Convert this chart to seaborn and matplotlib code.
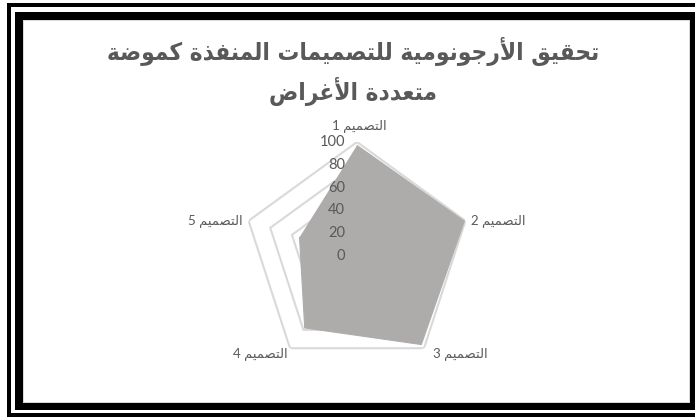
import re
import numpy as np
import matplotlib
matplotlib.use("Agg")
import matplotlib.pyplot as plt
import matplotlib.transforms as mtrans
from matplotlib.patches import Rectangle
import seaborn as sns

# ---------------- data ----------------
title_line1 = "تحقيق الأرجونومية للتصميمات المنفذة كموضة"
title_line2 = "متعددة الأغراض"
categories = ["التصميم 1", "التصميم 2", "التصميم 3", "التصميم 4", "التصميم 5"]
values = [97, 99, 96, 78, 53]
radial_ticks = [0, 20, 40, 60, 80, 100]

# ---------------- Arabic shaping (matplotlib has no complex text layout) -------------
FORMS = {
    'ا': ('\uFE8D', '\uFE8E', None, None), 'أ': ('\uFE83', '\uFE84', None, None),
    'إ': ('\uFE87', '\uFE88', None, None), 'آ': ('\uFE81', '\uFE82', None, None),
    'ب': ('\uFE8F', '\uFE90', '\uFE91', '\uFE92'), 'ة': ('\uFE93', '\uFE94', None, None),
    'ت': ('\uFE95', '\uFE96', '\uFE97', '\uFE98'), 'ث': ('\uFE99', '\uFE9A', '\uFE9B', '\uFE9C'),
    'ج': ('\uFE9D', '\uFE9E', '\uFE9F', '\uFEA0'), 'ح': ('\uFEA1', '\uFEA2', '\uFEA3', '\uFEA4'),
    'خ': ('\uFEA5', '\uFEA6', '\uFEA7', '\uFEA8'), 'د': ('\uFEA9', '\uFEAA', None, None),
    'ذ': ('\uFEAB', '\uFEAC', None, None), 'ر': ('\uFEAD', '\uFEAE', None, None),
    'ز': ('\uFEAF', '\uFEB0', None, None), 'س': ('\uFEB1', '\uFEB2', '\uFEB3', '\uFEB4'),
    'ش': ('\uFEB5', '\uFEB6', '\uFEB7', '\uFEB8'), 'ص': ('\uFEB9', '\uFEBA', '\uFEBB', '\uFEBC'),
    'ض': ('\uFEBD', '\uFEBE', '\uFEBF', '\uFEC0'), 'ط': ('\uFEC1', '\uFEC2', '\uFEC3', '\uFEC4'),
    'ظ': ('\uFEC5', '\uFEC6', '\uFEC7', '\uFEC8'), 'ع': ('\uFEC9', '\uFECA', '\uFECB', '\uFECC'),
    'غ': ('\uFECD', '\uFECE', '\uFECF', '\uFED0'), 'ف': ('\uFED1', '\uFED2', '\uFED3', '\uFED4'),
    'ق': ('\uFED5', '\uFED6', '\uFED7', '\uFED8'), 'ك': ('\uFED9', '\uFEDA', '\uFEDB', '\uFEDC'),
    'ل': ('\uFEDD', '\uFEDE', '\uFEDF', '\uFEE0'), 'م': ('\uFEE1', '\uFEE2', '\uFEE3', '\uFEE4'),
    'ن': ('\uFEE5', '\uFEE6', '\uFEE7', '\uFEE8'), 'ه': ('\uFEE9', '\uFEEA', '\uFEEB', '\uFEEC'),
    'و': ('\uFEED', '\uFEEE', None, None), 'ى': ('\uFEEF', '\uFEF0', None, None),
    'ي': ('\uFEF1', '\uFEF2', '\uFEF3', '\uFEF4'),
}
LAMALEF = {'آ': ('\uFEF5', '\uFEF6'), 'أ': ('\uFEF7', '\uFEF8'),
           'إ': ('\uFEF9', '\uFEFA'), 'ا': ('\uFEFB', '\uFEFC')}


def shape(s):
    items = []
    i = 0
    while i < len(s):
        c = s[i]
        if c == 'ل' and i + 1 < len(s) and s[i + 1] in LAMALEF:
            f = LAMALEF[s[i + 1]]
            items.append((f[0], f[1], None, None))
            i += 2
        elif c in FORMS:
            items.append(FORMS[c])
            i += 1
        else:
            items.append(c)
            i += 1
    out = []
    for k, it in enumerate(items):
        if isinstance(it, str):
            out.append(it)
            continue
        prev = items[k - 1] if k > 0 else None
        nxt = items[k + 1] if k + 1 < len(items) else None
        jp = isinstance(prev, tuple) and prev[2] is not None
        jn = it[2] is not None and isinstance(nxt, tuple)
        if jp and jn:
            out.append(it[3])
        elif jp:
            out.append(it[1])
        elif jn:
            out.append(it[2])
        else:
            out.append(it[0])
    shaped = ''.join(out)
    runs = re.findall(r'\d+|\D', shaped)
    return ''.join(runs[::-1])


# ---------------- style ----------------
sns.set_theme(style="white")
plt.rcParams['font.family'] = ['DejaVu Sans']

W, H = 695, 418
fig = plt.figure(figsize=(W / 100, H / 100), dpi=100)
fig.patch.set_facecolor("white")


def rect(x0, y0, x1, y1, color, z):
    fig.add_artist(Rectangle((x0 / W, 1 - y1 / H), (x1 - x0) / W, (y1 - y0) / H,
                             transform=fig.transFigure, facecolor=color,
                             edgecolor='none', zorder=z))


# double black frame
rect(7, 3, 700, 417, "black", -10)
rect(11, 7, 700, 413, "white", -9)
rect(15, 12, 700, 410, "black", -8)
rect(23, 20, 690, 403, "#D9D9D9", -7)
rect(24, 21, 689, 402, "white", -6)

# ---------------- radar ----------------
cx, cy, R = 357, 256, 114
ax = fig.add_axes([(cx - R) / W, (H - cy - R) / H, 2 * R / W, 2 * R / H], projection='polar')
ax.set_facecolor('none')
ax.set_theta_zero_location('N')
ax.set_theta_direction(-1)
ax.set_ylim(0, 100)
ax.grid(False)
ax.spines['polar'].set_visible(False)
ax.set_xticks([])
ax.set_yticks([])

n = len(categories)
theta = np.linspace(0, 2 * np.pi, n, endpoint=False)
theta_c = np.append(theta, theta[0])

for r in radial_ticks[1:]:
    ax.plot(theta_c, [r] * (n + 1), color="#D9D9D9", lw=1.5, zorder=1)

vals_c = np.append(values, values[0])
ax.fill(theta_c, vals_c, color="#AEABAB", zorder=2, lw=0)
sns.lineplot(x=theta_c, y=vals_c, sort=False, ax=ax, color="#AEABAB", lw=0.8, zorder=3)
ax.set_xlabel("")
ax.set_ylabel("")

# radial tick labels
off = mtrans.offset_copy(ax.transData, fig=fig, x=-12, y=0, units='dots')
for r in radial_ticks:
    ax.text(0, r, str(r), transform=off, ha='right', va='center', color="#595959",
            fontsize=10.5, family=['Lato', 'DejaVu Sans'], zorder=4)

# category labels
lab_cfg = [
    (114, 'center', 'center', 2, 0),
    (101, 'left', 'center', 4, 0),
    (101, 'left', 'center', 8, -4),
    (101, 'right', 'center', -2, -4),
    (101, 'right', 'center', -5, 0),
]
for k, (cat, (rr, ha, va, dx, dy)) in enumerate(zip(categories, lab_cfg)):
    tr = mtrans.offset_copy(ax.transData, fig=fig, x=dx, y=dy, units='dots')
    ax.text(theta[k], rr, shape(cat), transform=tr, ha=ha, va=va, color="#595959",
            fontsize=9.5, family=['Lato', 'DejaVu Sans'], zorder=4)

# title
for txt, y in [(title_line1, 51), (title_line2, 91)]:
    fig.text(353 / W, 1 - y / H, shape(txt), ha='center', va='center',
             fontsize=17.5, fontweight='bold', fontstretch='condensed',
             family=['DejaVu Sans'], color="#595959")

fig.savefig("out.png", dpi=100)
